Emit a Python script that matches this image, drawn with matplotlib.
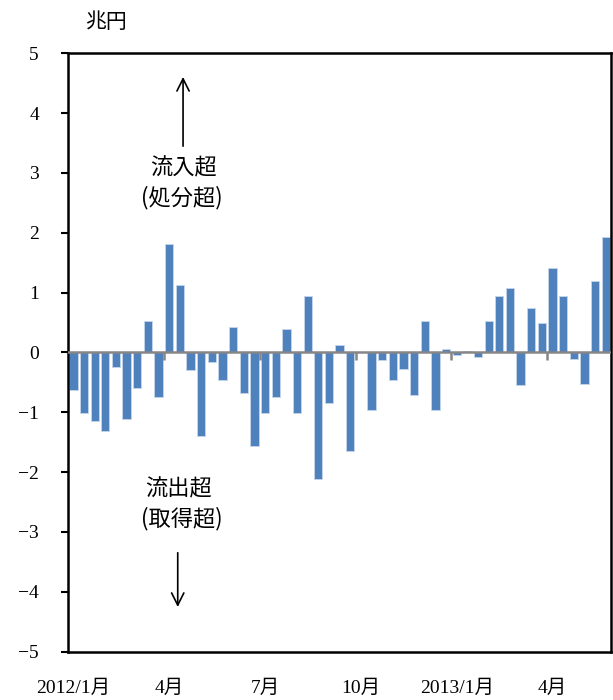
import matplotlib
matplotlib.use("Agg")
import matplotlib.pyplot as plt
import numpy as np

# 旬次（上旬・中旬・下旬）の証券投資フロー、兆円
values = [
    -0.62, -1.01, -1.15, -1.32, -0.24, -1.12, -0.60, 0.53, -0.74,   # 2012/1-3
    1.82, 1.13, -0.30, -1.40, -0.16, -0.46, 0.42, -0.68, -1.56,     # 4-6
    -1.01, -0.74, 0.39, -1.01, 0.94, -2.11, -0.85, 0.12, -1.65,     # 7-9
    0.0, -0.96, -0.13, -0.46, -0.27, -0.71, 0.53, -0.96, 0.06,      # 10-12
    -0.05, 0.03, -0.08, 0.53, 0.94, 1.08, -0.55, 0.75, 0.50,        # 2013/1-3
    1.41, 0.94, -0.11, -0.52, 1.19, 1.93,                           # 4-5
]
tick_labels = ["2012/1月", "4月", "7月", "10月", "2013/1月", "4月"]
label_every = 9

serif = ["Liberation Serif", "Noto Sans CJK JP"]
sans = ["Noto Sans CJK JP", "DejaVu Sans"]
blue = "#4F81BD"

fig = plt.figure(figsize=(6.13, 7.0), dpi=100)
ax = fig.add_axes([0.111, 0.069, 0.886, 0.855])

x = np.arange(len(values))
ax.bar(x, values, width=0.78, color=blue, edgecolor="#C6D6EA", linewidth=0.6, zorder=2)

# zero line with quarter tick marks hanging below it
ax.axhline(0, color="#868686", lw=1.8, zorder=3)
bounds = np.arange(label_every, len(values), label_every) - 0.5
ax.vlines(bounds, -0.12, 0, color="#868686", lw=1.8, zorder=3)

ax.set_xlim(-0.5, len(values) - 0.5)
ax.set_ylim(-5, 5)
ax.set_yticks(range(-5, 6))
ax.set_yticklabels([str(v).replace("-", "\u2212") for v in range(-5, 6)],
                   family=serif, fontsize=14)
ax.tick_params(axis="y", direction="out", length=5, width=1.5, pad=16)

xt = np.arange(0, len(values), label_every)
ax.set_xticks(xt)
ax.set_xticklabels(tick_labels, family=serif, fontsize=14)
ax.tick_params(axis="x", length=0, pad=20)

for s in ax.spines.values():
    s.set_linewidth(1.8)
    s.set_color("black")

fig.text(0.173, 0.968, "兆円", family=sans, fontsize=15, ha="center", va="center")

# annotations
ax.text(10.3, 3.08, "流入超", family=sans, fontsize=16, ha="center", va="center")
ax.text(10.2, 2.58, "(処分超)", family=sans, fontsize=16, ha="center", va="center")
ax.annotate("", xy=(10.3, 4.65), xytext=(10.3, 3.4),
            arrowprops=dict(arrowstyle="->", color="black", lw=1.2, mutation_scale=22))
ax.text(9.9, -2.28, "流出超", family=sans, fontsize=16, ha="center", va="center")
ax.text(10.2, -2.78, "(取得超)", family=sans, fontsize=16, ha="center", va="center")
ax.annotate("", xy=(9.8, -4.3), xytext=(9.8, -3.3),
            arrowprops=dict(arrowstyle="->", color="black", lw=1.2, mutation_scale=22))

fig.savefig("out.png", dpi=100)
